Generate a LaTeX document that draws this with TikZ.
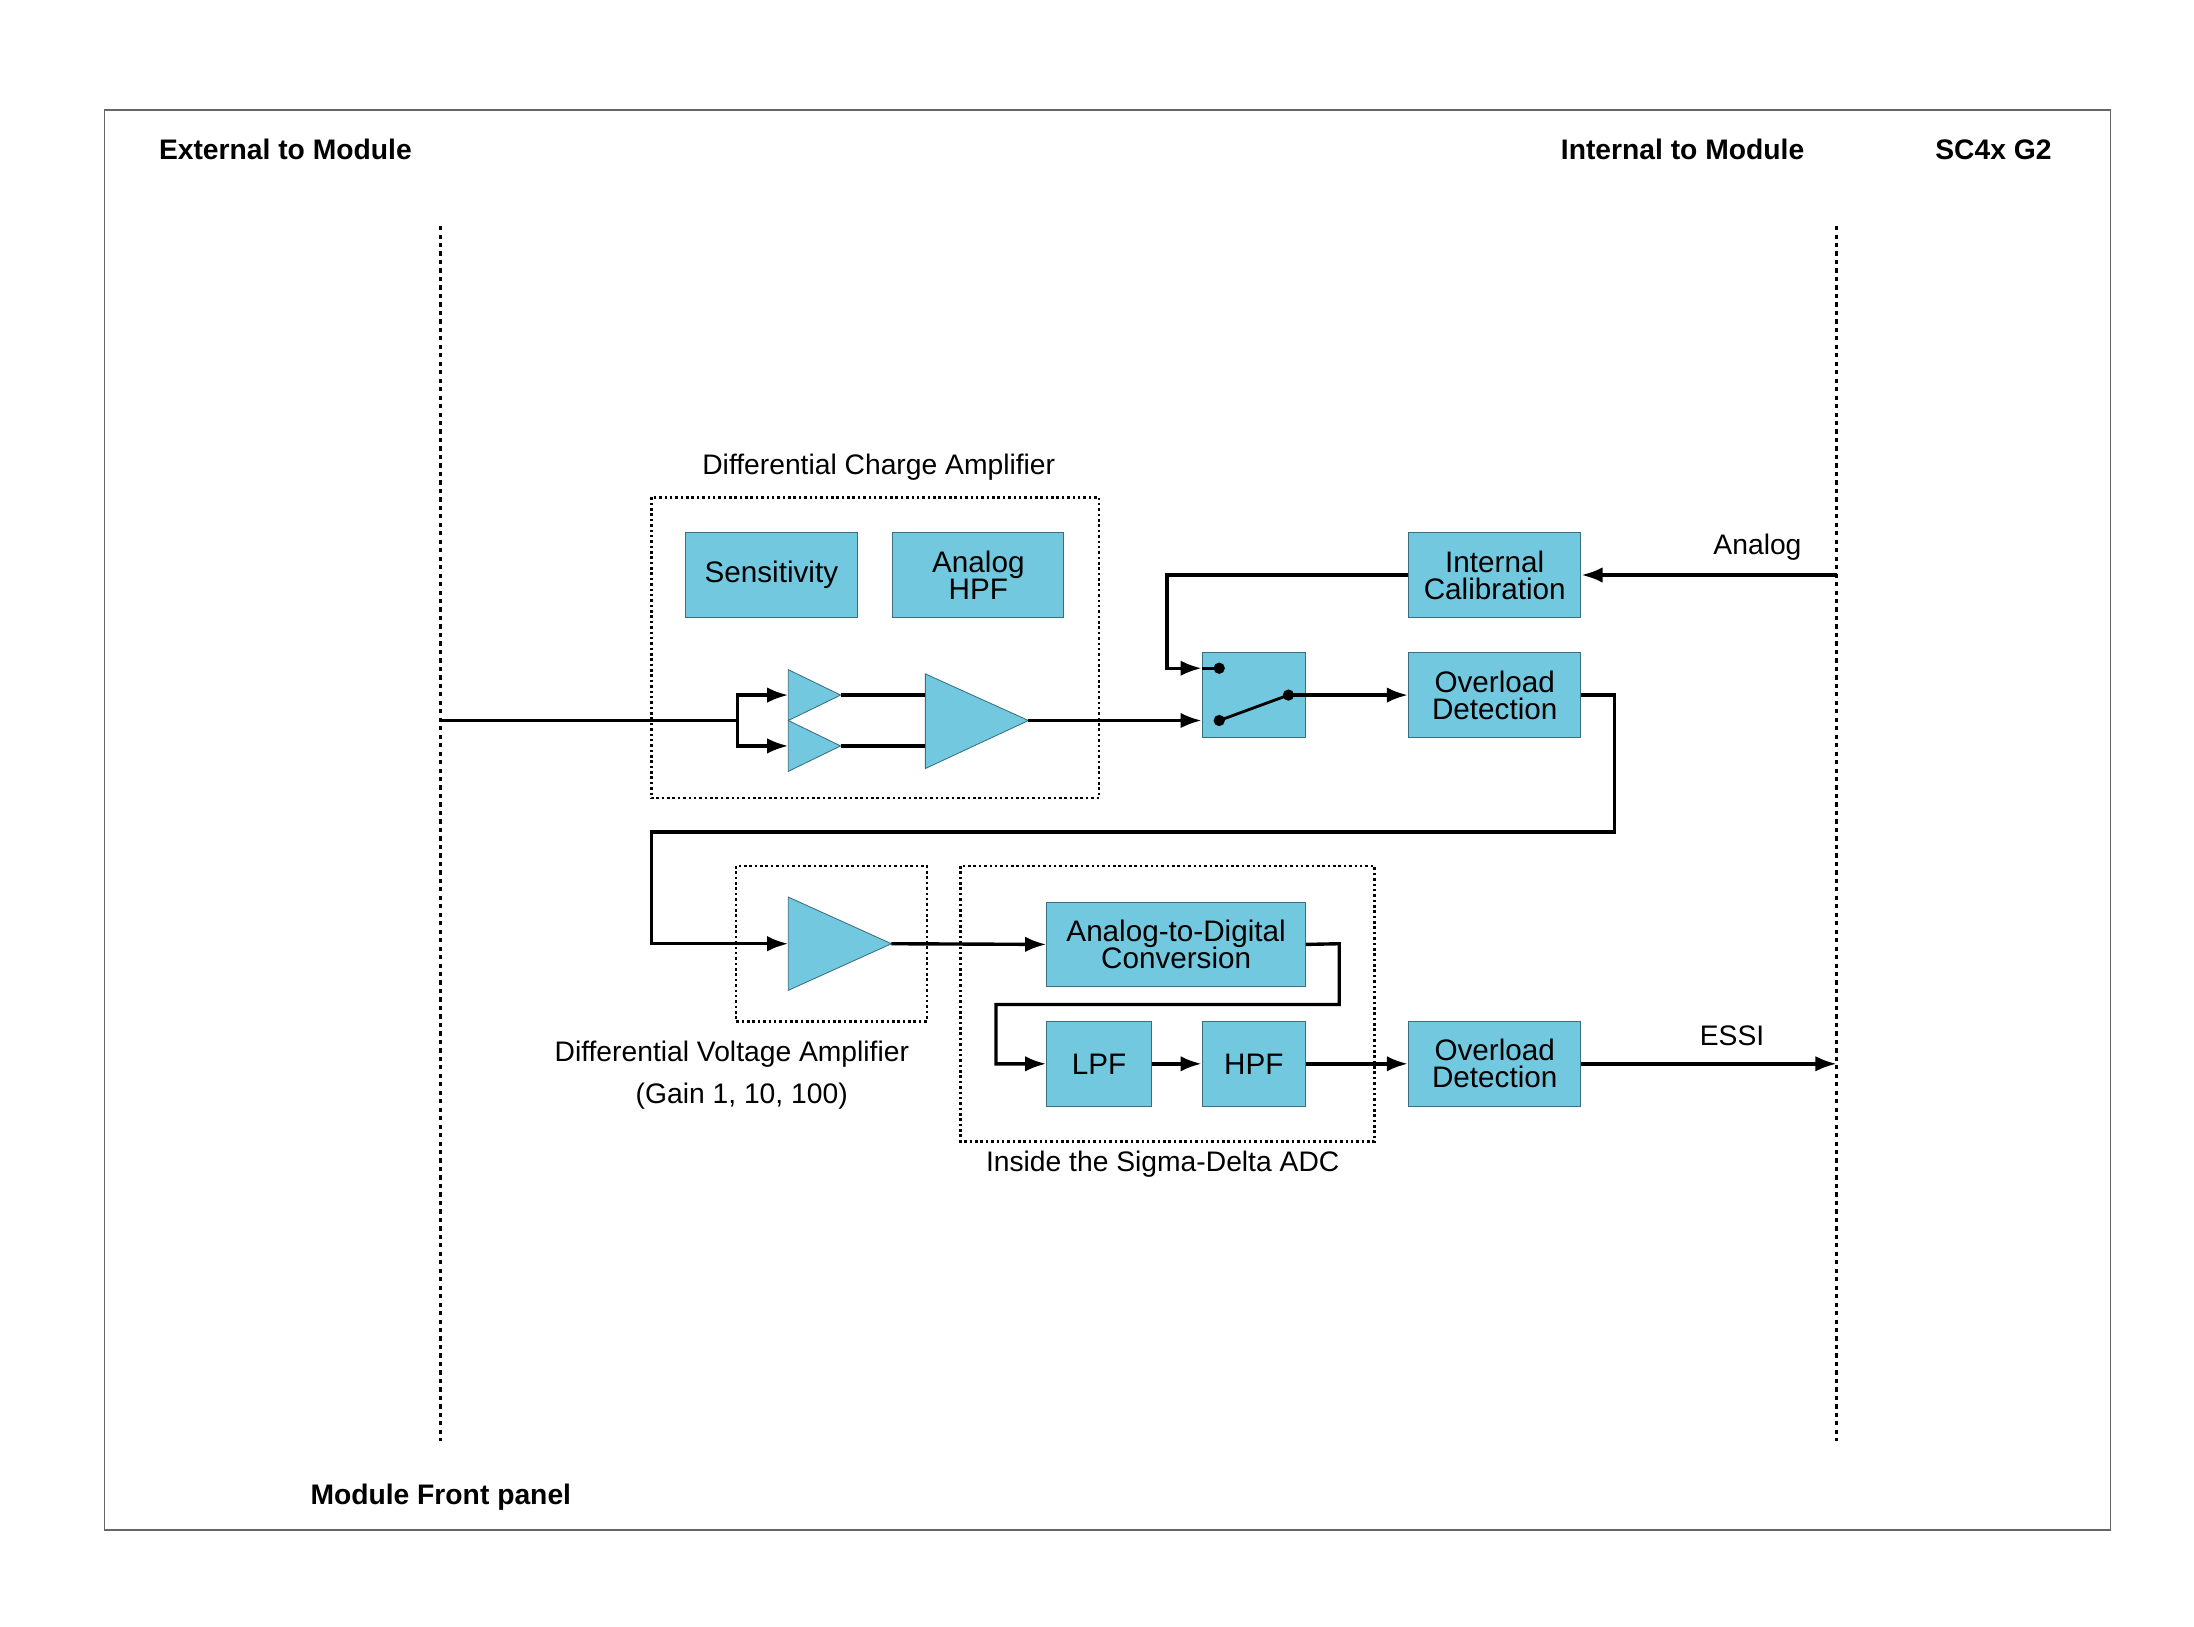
\documentclass[tikz,border=0pt]{standalone}
\usepackage{fontspec}
\setmainfont{Liberation Sans}
\usetikzlibrary{arrows.meta}
\definecolor{boxc}{HTML}{72C9DF}
\definecolor{boxd}{HTML}{3A6E80}
\begin{document}
\begin{tikzpicture}[x=1pt,y=-1pt,
  blk/.style={draw=boxd,line width=0.8pt,fill=boxc,font=\fontsize{21}{23}\selectfont,align=center},
  wire/.style={line width=2.4pt},
  arr/.style={wire,-{Latex[length=15pt,width=11pt]}},
  dotbox/.style={draw,line width=1.8pt,dotted},
  bl/.style={font=\bfseries\fontsize{20}{22}\selectfont},
  lb/.style={font=\fontsize{20}{22}\selectfont,align=center},
  amp/.style={fill=boxc,draw=boxd,line width=0.6pt}]
\useasboundingbox (0,0) rectangle (1553,1151);
\draw[gray!80!black,line width=1pt] (74,78) rectangle (1494,1083);
\node[bl] (ext) at (202,106) {External to Module};
\node[bl] (int) at (1191,106) {Internal to Module};
\node[bl] (sc) at (1411,106) {SC4x G2};
\node[bl] (mfp) at (312,1060) {Module Front panel};
\draw[wire,dashed,line width=2pt] (312,160) -- (312,1020);
\draw[wire,dashed,line width=2pt] (1300,160) -- (1300,1020);
% DCA
\draw[dotbox] (461,352) rectangle (778,565);
\node[lb] (dcal) at (622,331) {Differential Charge Amplifier};
\node[blk,minimum width=122pt,minimum height=60pt] (sens) at (546,407) {Sensitivity};
\node[blk,minimum width=121pt,minimum height=60pt,text depth=0pt] (ahpf) at (692.5,407) {Analog\\[-4pt]HPF};
\draw[amp] (558,474) -- (595,492) -- (558,510) -- cycle;
\draw[amp] (558,510) -- (595,528) -- (558,546) -- cycle;
\draw[amp] (655,477) -- (728,510) -- (655,544) -- cycle;
\coordinate (in) at (312,510);
\coordinate (sp) at (522,510);
\draw[wire] (in) -- (sp);
\draw[arr] (sp) |- (558,492);
\draw[arr] (sp) |- (558,528);
\draw[wire] (595,492) -- (655,492);
\draw[wire] (595,528) -- (655,528);
% switch
\node[blk,minimum width=73pt,minimum height=60pt] (sw) at (887.5,492) {};
\draw[arr] (728,510) -- (sw.west |- 0,510);
\fill (863,473) circle (4pt) (863,510) circle (4pt) (912,492) circle (4pt);
\draw[line width=2pt] (863,510) -- (912,492);
\draw[wire] (912,492) -- (sw.east);
\node[blk,minimum width=122pt,minimum height=60pt] (ic) at (1058,407) {Internal\\[-4pt]Calibration};
\node[blk,minimum width=122pt,minimum height=60pt] (od1) at (1058,492) {Overload\\[-4pt]Detection};
\draw[arr] (sw.east) -- (od1.west);
\draw[arr] (1300,407) -- (ic.east);
\node[lb] (anl) at (1244,387) {Analog};
\draw[arr] (ic.west) -- (826,407) |- (sw.west |- 0,473);
\draw[wire] (sw.west |- 0,473) -- (863,473);
% route
\node[amp,draw=none,fill=none] (dummy) at (0,0) {};
\draw[dotbox] (521,613) rectangle (656,723);
\draw[amp] (558,635) -- (631,668) -- (558,701) -- cycle;
\draw[arr] (od1.east) -- (1143,492) -- (1143,589) -- (461,589) -- (461,668) -- (558,668);
\node[lb] (dval) at (518,746) {Differential Voltage Amplifier};
\node[lb] (gain) at (525,776) {(Gain 1, 10, 100)};
% ADC
\draw[dotbox] (680,613) rectangle (973,808);
\node[lb] (adcl) at (823,824) {Inside the Sigma-Delta ADC};
\node[blk,minimum width=183pt,minimum height=59pt] (adc) at (832.5,668.5) {Analog-to-Digital\\[-4pt]Conversion};
\draw[arr] (631,668) -- (adc.west);
\node[blk,minimum width=74pt,minimum height=60pt] (lpf) at (778,753) {LPF};
\node[blk,minimum width=73pt,minimum height=60pt] (hpf) at (887.5,753) {HPF};
\draw[arr] (adc.east) -- (948,668) -- (948,711) -- (705,711) -- (705,753) -- (lpf.west);
\draw[arr] (lpf) -- (hpf);
\node[blk,minimum width=122pt,minimum height=60pt] (od2) at (1058,753) {Overload\\[-4pt]Detection};
\draw[arr] (hpf) -- (od2);
\coordinate (essi) at (1300,753);
\draw[arr] (od2.east) -- (essi);
\node[lb] (essil) at (1226,733) {ESSI};
\end{tikzpicture}
\end{document}
